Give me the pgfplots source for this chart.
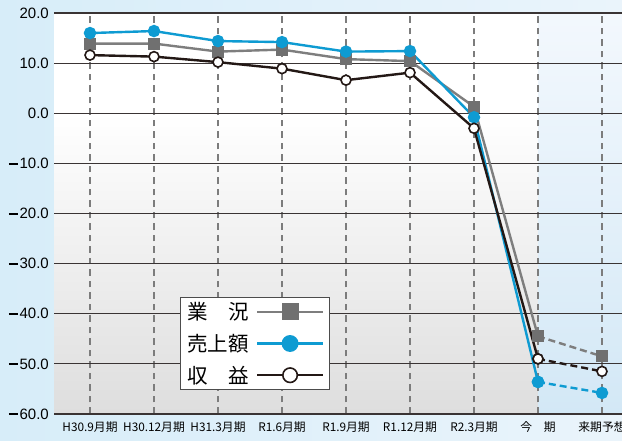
\documentclass[border=0pt]{standalone}
\usepackage{fontspec}
\usepackage{pgfplots}
\usepackage{pgfplotstable}
\pgfplotsset{compat=1.18}
\setmainfont{Noto Sans CJK JP}
\newfontfamily\numfont{Liberation Sans}
\newfontfamily\jpfont{Noto Sans CJK JP}
% a long, bold minus for the value axis
\newcommand\mn{\rule[0.26em]{0.62em}{0.12em}\kern0.1em}

\definecolor{bgblue}{HTML}{D7EDF9}
\definecolor{bgblueR}{HTML}{EAF4FB}
\definecolor{fcTop}{HTML}{F3F8FD}
\definecolor{fcBot}{HTML}{D3E8F6}
\definecolor{gyoC}{HTML}{707070}
\definecolor{uriC}{HTML}{0E9BD2}
\definecolor{shuC}{HTML}{231815}
\definecolor{hgrid}{HTML}{3A3434}
\definecolor{vgrid}{HTML}{7C7C7C}

% results up to the current term
\pgfplotstableread{
x gyokyo uriage shueki
0 13.9 16.0 11.6
1 13.9 16.4 11.3
2 12.3 14.4 10.2
3 12.7 14.2 8.9
4 10.8 12.3 6.6
5 10.4 12.4 8.1
6 1.3 -0.8 -3.0
7 -44.5 -53.6 -49.0
}\actual
% outlook for the next term
\pgfplotstableread{
x gyokyo uriage shueki
7 -44.5 -53.6 -49.0
8 -48.5 -55.8 -51.5
}\forecast

\begin{document}
\begin{tikzpicture}[x=1pt,y=1pt]
\useasboundingbox (0,0) rectangle (622,441);
% page background
\shade[left color=bgblue, right color=bgblueR] (0,0) rectangle (622,441);
% plot area: white above zero, grey gradient below
\fill[white] (54,327.75) rectangle (622,428);
\shade[top color=white, bottom color=black!13] (54,27) rectangle (622,327.75);
% forecast column
\shade[top color=fcTop, bottom color=fcBot] (538,27) rectangle (622,428);

\begin{axis}[
  at={(54pt,27pt)}, anchor=south west,
  scale only axis, width=568pt, height=401pt,
  xmin=-0.5625, xmax=8.3125, ymin=-60, ymax=20,
  axis line style={draw=none},
  major tick length=0pt,
  xtick={0,...,8},
  xticklabels={H30.9月期,H30.12月期,H31.3月期,R1.6月期,R1.9月期,R1.12月期,R2.3月期,今　期,来期予想},
  xticklabel style={font=\jpfont\fontsize{11.8}{11.8}\selectfont, yshift=-4pt},
  ytick={-60,-50,-40,-30,-20,-10,0,10,20},
  yticklabels={\mn60.0,\mn50.0,\mn40.0,\mn30.0,\mn20.0,\mn10.0,0.0,10.0,20.0},
  yticklabel style={font=\numfont\fontsize{15}{15}\selectfont, inner sep=0pt, xshift=-5pt},
  xmajorgrids, ymajorgrids,
  x grid style={vgrid, line width=1.2pt, dash pattern=on 6.5pt off 5pt},
  y grid style={hgrid, line width=1.1pt},
  clip=false,
  legend plot pos=right,
  legend image code/.code={\path (0pt,0pt);
    \draw[line width=2.4pt, mark repeat=2,mark phase=2,/tikz/every mark/.append style={scale=1.45}] plot coordinates {(5pt,0pt) (38pt,0pt) (71pt,0pt)};},
  legend style={at={(axis description cs:0.2218,0.2918)}, anchor=north west,
    draw=black!70, line width=0.8pt, fill=white,
    font=\jpfont\fontsize{20.5}{20.5}\selectfont,
    inner xsep=5pt, inner ysep=3pt, row sep=9pt},
  legend cell align=left,
]
% 業況
\addplot[gyoC!90, line width=2.4pt, mark=square*, mark size=5.5pt, mark options={fill=gyoC, draw=gyoC, line width=0pt}]
  table[x=x, y=gyokyo] {\actual};
\addlegendentry{業　況}
% 売上額
\addplot[uriC, line width=2.4pt, mark=*, mark size=5pt, mark options={fill=uriC, draw=uriC}]
  table[x=x, y=uriage] {\actual};
\addlegendentry{売上額}
% 収益
\addplot[shuC, line width=2.4pt, mark=*, mark size=5pt, mark options={fill=white, draw=shuC, line width=1.6pt}]
  table[x=x, y=shueki] {\actual};
\addlegendentry{収　益}

% outlook segments
\addplot[forget plot, gyoC!90, line width=2.4pt, dash pattern=on 7pt off 4pt, mark=square*, mark size=5.5pt, mark options={solid, fill=gyoC, draw=gyoC, line width=0pt}]
  table[x=x, y=gyokyo] {\forecast};
\addplot[forget plot, uriC, line width=2.4pt, dash pattern=on 7pt off 4pt, mark=*, mark size=5pt, mark options={solid, fill=uriC, draw=uriC}]
  table[x=x, y=uriage] {\forecast};
\addplot[forget plot, shuC, line width=2.4pt, dash pattern=on 7pt off 4pt, mark=*, mark size=5pt, mark options={solid, fill=white, draw=shuC, line width=1.6pt}]
  table[x=x, y=shueki] {\forecast};
\end{axis}
\end{tikzpicture}
\end{document}
